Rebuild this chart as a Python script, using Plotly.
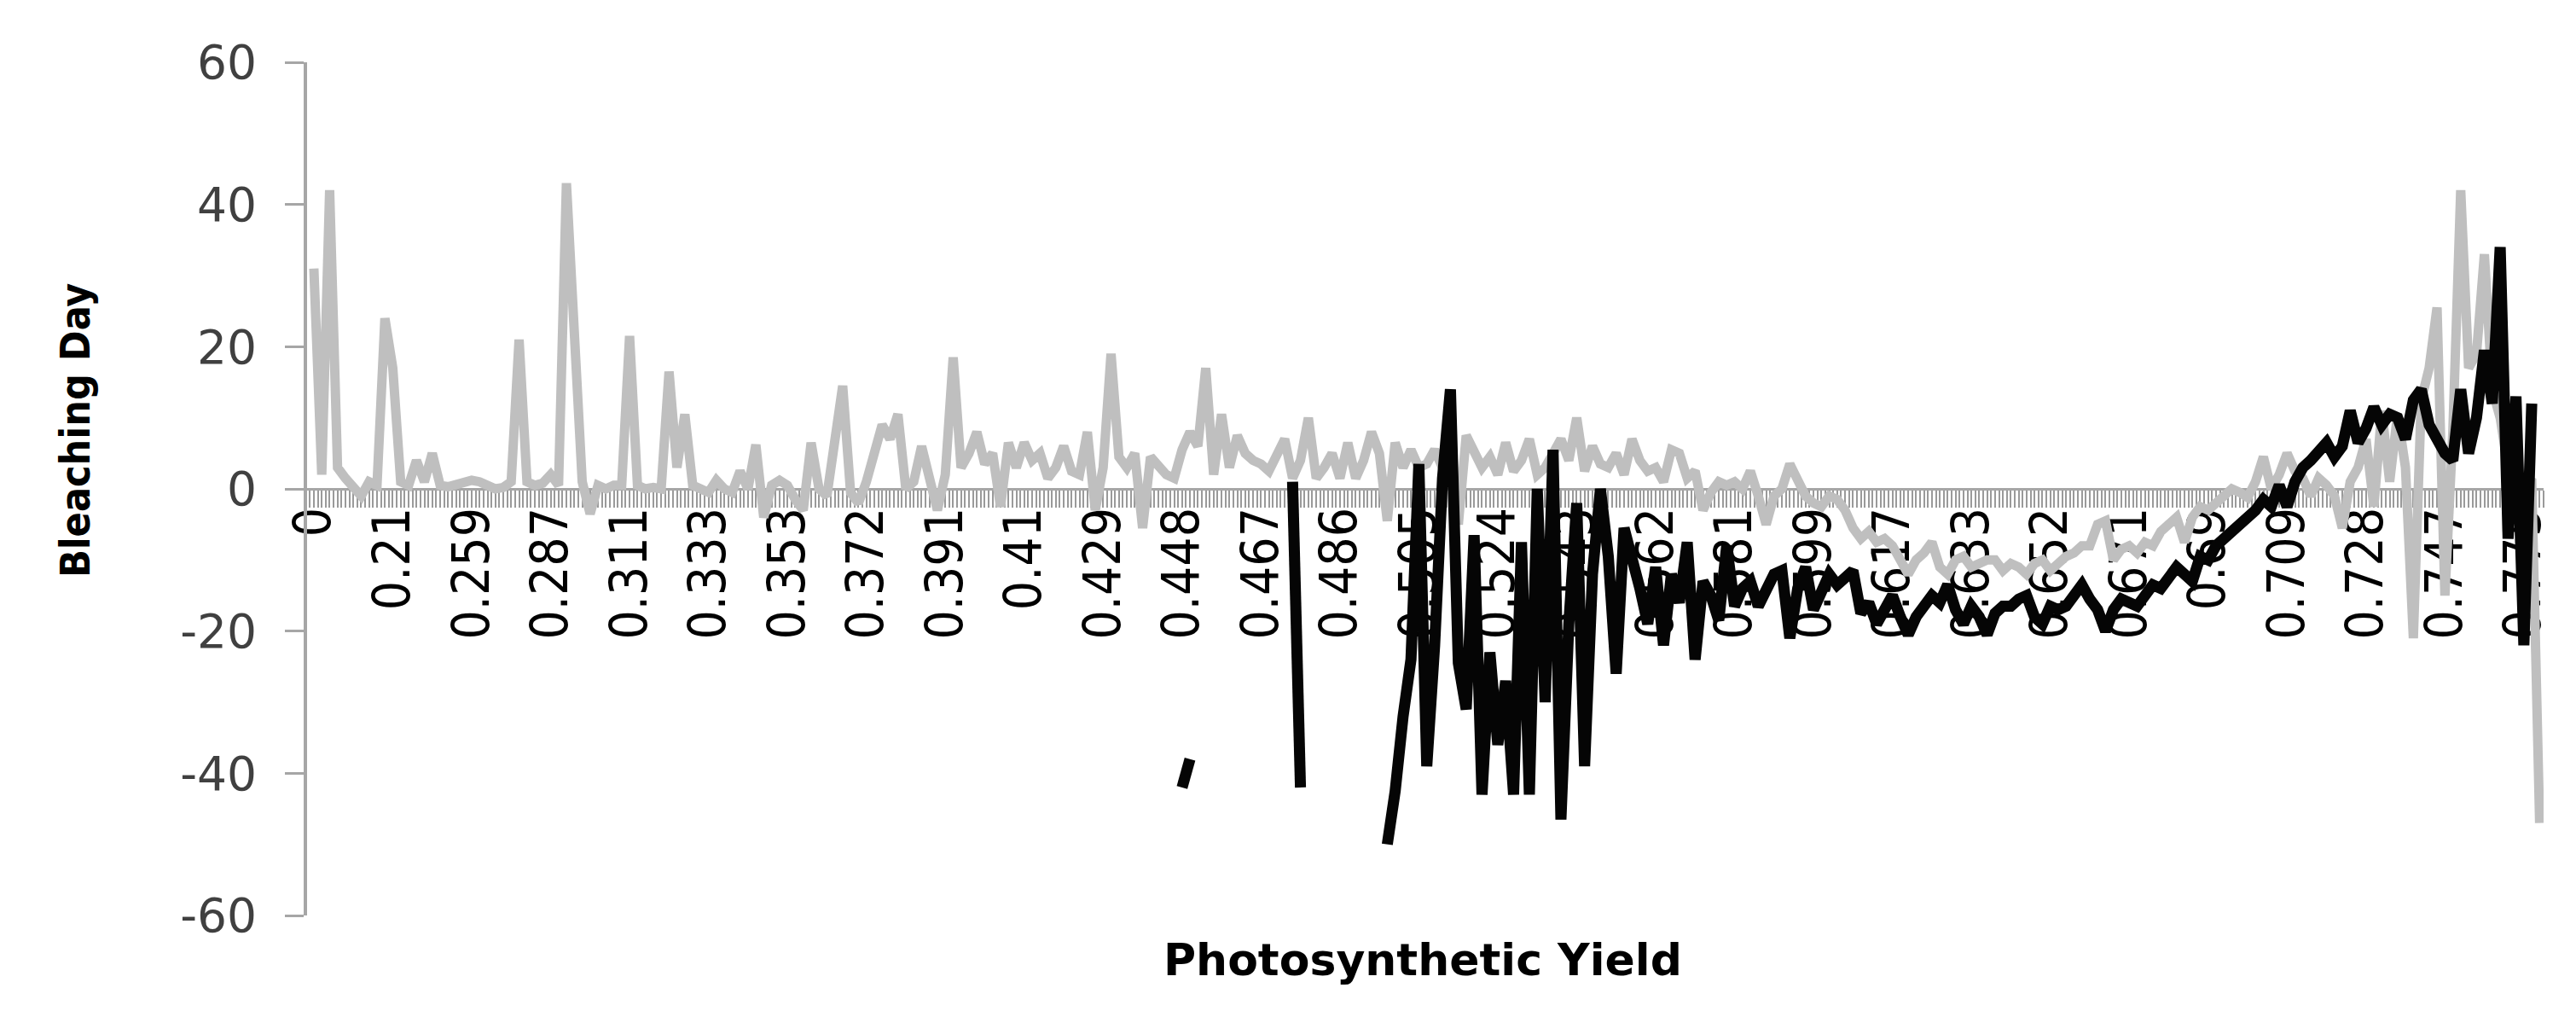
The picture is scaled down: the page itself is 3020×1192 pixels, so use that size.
import plotly.graph_objects as go

# x tick labels (photosynthetic yield), one every 10 points
tick_labels = ["0", "0.21", "0.259", "0.287", "0.311", "0.333", "0.353", "0.372",
               "0.391", "0.41", "0.429", "0.448", "0.467", "0.486", "0.505", "0.524",
               "0.543", "0.562", "0.581", "0.599", "0.617", "0.633", "0.652", "0.671",
               "0.69", "0.709", "0.728", "0.747", "0.775"]

y_ticks = [-60, -40, -20, 0, 20, 40, 60]
y_tick_text = ["-60", "-40", "-20", "0", "20", "40", "60"]

# grey series (bleaching day)
grey_vals = [
    31, 2, 42, 3, 1.5, 0, -1, 1, 0.5, 24,
    17, 1, 0.5, 4, 1, 5, 0.5, 0.3, 0.5, 1,
    1.2, 1, 0.5, 0, 0.2, 1, 21, 1, 0.5, 0.8,
    2, 0.5, 43, 21.5, 1, -3.5, 0.5, 0, 0.5, 0.5,
    21.5, 0.5, 0, 0.2, 0, 16.5, 3, 10.5, 0.5, 0,
    -0.5, 1.2, 0, -0.5, 2.5, 0, 6.2, -4, 0.5, 1.2,
    0.5, -1.5, -3, 6.5, 0, -1, 6.5, 14.5, -0.5, -2,
    1, 4.5, 9, 7, 10.5, 0, 1, 6, 2, -3,
    2, 18.5, 3, 5, 8, 3.5, 5, -2.5, 6.5, 3,
    6.5, 4, 5, 1.5, 3, 6, 2.5, 2, 8, -3,
    3, 19, 4.5, 3, 5, -5.5, 4.5, 3, 2, 1.5,
    5.5, 8, 6, 17, 2, 10.5, 3, 7.5, 5, 4,
    3.5, 2.5, 5, 7, 1.5, 4, 10, 1.5, 3, 5,
    1.5, 6.5, 1.5, 4, 8, 5, -4.5, 6.5, 3, 5.5,
    3, 3.5, 5.5, 3, 4, -5, 7.5, 5.5, 3, 4.5,
    2, 6.5, 2.5, 4, 7, 2, 3, 5, 7, 4,
    10, 2.5, 6, 3.5, 3, 5, 2, 7, 4, 2.5,
    3, 1, 5.5, 5, 1.5, 2.5, -3, -0.5, 1, 0.5,
    1, 0, 2.5, -1, -5, -1, 0, 3.5, 1, -1,
    -2, -2.5, -1, -1.5, -3, -5.5, -7, -6, -7.5, -7,
    -8, -10, -12, -10, -9, -7.5, -11, -12, -10, -9.5,
    -11, -10.5, -10, -10, -11.5, -10.5, -11, -12, -10.5, -10,
    -11.5, -10.5, -9.5, -9, -8, -8, -5, -4.5, -10, -8.5,
    -8, -9, -7.5, -8, -6, -5, -4, -7.5, -4, -2.5,
    -3, -2, -1, 0, -0.5, -1.2, 1, 4.5, 0, 2,
    5, 2.5, 1.5, -1, 1.5, 0.5, -1, -5.5, 1, 3,
    7, -2.5, 11, 1, 10.5, 3, -21, 12.5, 17, 25.5,
    -15, 8, 42, 17, 19, 33, 14, 10, 3, 2.5,
    1.5, 1, -47,
]

# black series, gaps where there is no value
black_vals = (
    [None] * 110
    + [-42, -38]
    + [None] * 12
    + [1, -42]
    + [None] * 10
    + [
        -50, -42.5, -32, -24, 3.5, -39, -22, 1.5, 14, -24.5,
        -31, -6.5, -43, -23, -36, -27, -43, -7.5, -43, 0,
        -30, 5.5, -46.5, -19, -2, -39, -12, 0, -9.5, -26,
        -5.5, -9.5, -14, -19, -11, -22, -12, -16, -7.5, -24,
        -13, -15, -18.5, -8, -16.5, -14, -13, -16.5, -14, -12,
        -11.5, -21, -14, -11, -17, -14, -12, -13.5, -12.5, -11.5,
        -17.5, -16, -19, -17, -15, -18, -20.5, -18, -16.5, -15,
        -16, -13.5, -17, -19, -16.5, -18, -20.5, -17.5, -16.5, -16.5,
        -15.5, -15, -18, -19, -16.5, -17, -16.5, -15, -13.5, -15.5,
        -17, -20, -17, -15.5, -16, -16.5, -15, -13.5, -14, -12.5,
        -11, -12, -13, -9.5, -10, -8, -7, -6, -5.5, -4.5,
        -3, -1.5, -2.5, 0.5, -2.5, 1, 3, 4, 5, 6.5,
        4.5, 6, 11, 6.5, 8.5, 11.5, 9, 10.5, 10, 7,
        12.5, 14, 9, 7, 5, 4, 14, 5, 10, 19.5,
        12, 34, -7, 13, -22, 12,
    ]
    + [None]
)

xs = list(range(len(grey_vals)))
tick_pos = [i * 10 for i in range(len(tick_labels))]

narrow = "DejaVu Sans Condensed, Roboto, sans-serif"

fig = go.Figure()
fig.add_trace(go.Scatter(x=xs, y=grey_vals, mode="lines",
                         line=dict(color="#BFBFBF", width=11)))
fig.add_trace(go.Scatter(x=xs, y=black_vals, mode="lines", connectgaps=False,
                         line=dict(color="#050505", width=13)))

fig.update_layout(
    width=3020, height=1192,
    margin=dict(l=352, r=46, t=65, b=127),
    plot_bgcolor="white", paper_bgcolor="white",
    showlegend=False,
    xaxis=dict(
        range=[-0.86, 282.5],
        anchor="free", position=0.5,
        showline=True, linecolor="#A6A6A6", linewidth=3,
        tickmode="array", tickvals=tick_pos, ticktext=tick_labels,
        tickangle=-90,
        ticks="outside", ticklen=20, tickwidth=2, tickcolor="#9A9A9A",
        minor=dict(ticks="outside", tick0=0, dtick=0.5, ticklen=20,
                   tickwidth=2, tickcolor="#9A9A9A", showgrid=False),
        tickfont=dict(family=narrow, size=60, color="#000000"),
        ticklabelstandoff=-24,
        showgrid=False, zeroline=False,
        layer="below traces",
    ),
    yaxis=dict(
        range=[-60, 60],
        tickmode="array", tickvals=y_ticks, ticktext=y_tick_text,
        showline=True, linecolor="#A6A6A6", linewidth=4,
        ticks="outside", ticklen=22, tickwidth=3, tickcolor="#A6A6A6",
        tickfont=dict(family="DejaVu Sans", size=55, color="#404040"),
        ticklabelstandoff=22,
        showgrid=False, zeroline=False,
    ),
    annotations=[
        dict(text="<b>Bleaching Day</b>", xref="paper", yref="paper",
             x=-0.1037, y=0.569, textangle=-90, showarrow=False,
             xanchor="center", yanchor="middle",
             font=dict(family=narrow, size=48, color="#000000")),
        dict(text="<b>Photosynthetic Yield</b>", xref="paper", yref="paper",
             x=0.499, y=-0.052, showarrow=False,
             xanchor="center", yanchor="middle",
             font=dict(family="DejaVu Sans", size=52, color="#000000")),
    ],
)

fig.write_html("out.html")
